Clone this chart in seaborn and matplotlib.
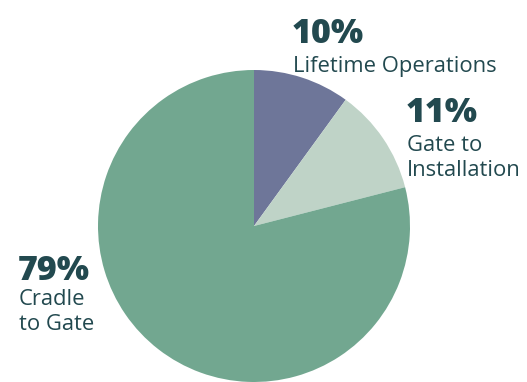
import matplotlib
matplotlib.use("Agg")
import matplotlib.pyplot as plt
import seaborn as sns

# Share of emissions by life-cycle stage (clockwise from 12 o'clock)
stages = ["Lifetime Operations", "Gate to Installation", "Cradle to Gate"]
shares = [10, 11, 79]
colors = ["#6e7699", "#bfd3c7", "#72a790"]

# Label text for each slice
pct_labels = ["10%", "11%", "79%"]
name_labels = ["Lifetime Operations", "Gate to\nInstallation", "Cradle\nto Gate"]

sns.set_theme(style="white")
plt.rcParams["font.family"] = ["Open Sans", "DejaVu Sans"]

W, H = 527, 382
fig = plt.figure(figsize=(W / 100, H / 100), dpi=100)
ax = fig.add_axes([0, 0, 1, 1])
ax.set_xlim(0, W)
ax.set_ylim(0, H)
ax.set_aspect("equal")
ax.axis("off")

ax.pie(shares, colors=colors, startangle=90, counterclock=False,
       center=(254, H - 226), radius=156,
       wedgeprops=dict(linewidth=0))
ax.set_xlim(0, W)
ax.set_ylim(0, H)

text_color = "#22494f"
# (x, baseline of percentage, baseline of first name line) in pixel rows from top
label_pos = [(292, 43, 72), (406, 122, 151), (18, 280, 305)]
for pct, name, (x, yb, yn) in zip(pct_labels, name_labels, label_pos):
    ax.text(x, H - yb, pct, fontsize=24.5, fontweight="heavy",
            color=text_color, va="baseline", ha="left")
    for i, line in enumerate(name.split("\n")):
        ax.text(x + 1, H - (yn + 25 * i), line, fontsize=15.8,
                color=text_color, va="baseline", ha="left")

fig.savefig("out.png", dpi=100)
